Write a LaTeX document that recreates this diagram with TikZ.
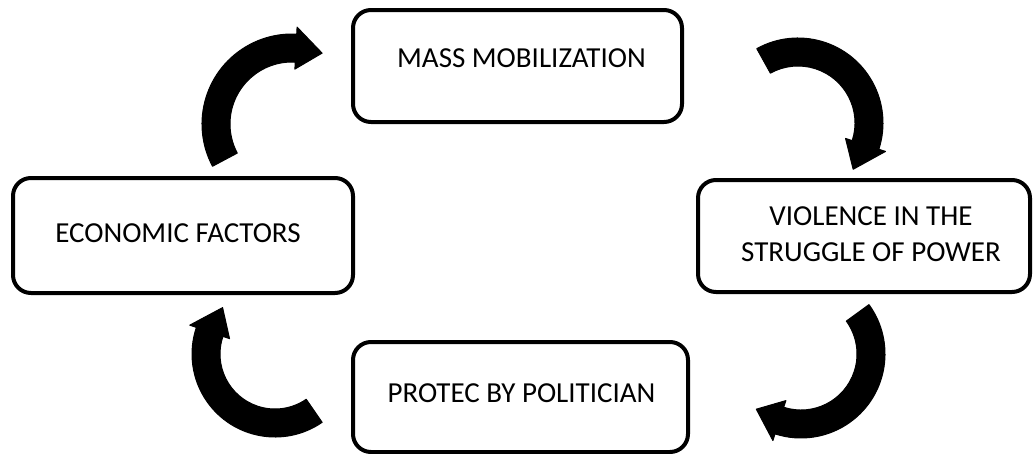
\documentclass[tikz,border=0pt]{standalone}
\usepackage{fontspec}
\setmainfont{Carlito}
\begin{document}
\begin{tikzpicture}[x=1pt,y=1pt,
  stagebox/.style={draw=black, line width=4pt, rounded corners=18pt, fill=white,
    inner sep=0pt, outer sep=0pt},
  stagetext/.style={font=\fontsize{29}{35.4}\selectfont, align=center, inner sep=0pt},
  arrowfill/.style={fill=black, draw=black, line width=1pt, line join=round}]
\useasboundingbox (0,0) rectangle (1033,-453);
\fill[white] (0,0) rectangle (1033,-453);

% Curved block arrow: centre (x,y in image units), radius, tail angle, head-base angle, tip angle
\newcommand\cyclearrow[6]{%
  \filldraw[arrowfill, shift={(#1,-#2)}]
    (#4:{#3+14}) arc[start angle=#4, end angle=#5, radius=#3+14]
    -- (#5:{#3+21}) -- (#6:{#3+1}) -- (#5:{#3-21}) -- (#5:{#3-14})
    arc[start angle=#5, end angle=#4, radius=#3-14] -- cycle;}

% stage boxes
\node[stagebox, minimum width=329pt, minimum height=112pt] (mass) at (517.5,-66) {};
\node[stagebox, minimum width=340pt, minimum height=115pt] (econ) at (183,-235.5) {};
\node[stagebox, minimum width=332pt, minimum height=112pt] (viol) at (864,-236) {};
\node[stagebox, minimum width=335pt, minimum height=110pt] (prot) at (520.5,-397) {};

% stage labels
\node[stagetext] (massT) at ([xshift=4pt, yshift=8pt]mass.center) {MASS MOBILIZATION};
\node[stagetext] (econT) at ([xshift=-5pt, yshift=2pt]econ.center) {ECONOMIC FACTORS};
\node[stagetext] (violT) at ([xshift=7pt, yshift=2pt]viol.center) {VIOLENCE IN THE\\STRUGGLE OF POWER};
\node[stagetext] (protT) at ([xshift=1pt, yshift=4pt]prot.center) {PROTEC BY POLITICIAN};

% cycle arrows (clockwise)
\cyclearrow{292}{124}{76}{208}{87}{67}
\cyclearrow{798}{123}{71}{119}{-18}{-40}
\cyclearrow{801}{354}{70}{36}{-108}{-129}
\cyclearrow{275}{354}{69}{304.6}{161.3}{138.5}
\end{tikzpicture}
\end{document}
